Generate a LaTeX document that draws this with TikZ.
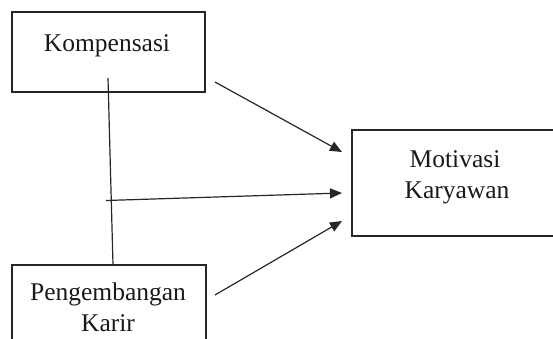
\documentclass[tikz,border=0pt]{standalone}
\usepackage{fontspec}
\setmainfont{Liberation Serif}
\usetikzlibrary{arrows.meta}
\begin{document}
\begin{tikzpicture}[x=1pt,y=-1pt,
  box/.style={draw=black!85,line width=1.3pt,rectangle,inner sep=0pt},
  lbl/.style={inner sep=0pt,anchor=base,font=\fontsize{25.5}{31}\selectfont,text=black!90},
  conn/.style={draw=black!85,line width=1.2pt},
  arr/.style={conn,-{Triangle[length=12pt,width=10pt]}}]
\useasboundingbox (0,0) rectangle (553,339);
\clip (0,0) rectangle (553,339);
% boxes
\node[box,minimum width=193pt,minimum height=80pt] (komp) at (108.5,52) {};
\node[box,minimum width=194pt,minimum height=110pt] (peng) at (109,320) {};
\node[box,minimum width=230pt,minimum height=106pt] (moti) at (467,183) {};
% texts
\node[lbl] (t1) at (107,52) {Kompensasi};
\node[lbl] (t2) at (108,300) {Pengembangan};
\node[lbl] (t3) at (108,331) {Karir};
\node[lbl] (t4) at (455,167) {Motivasi};
\node[lbl] (t5) at (457,198) {Karyawan};
% connector points
\coordinate (v1) at (108,78);
\coordinate (v2) at (113,265);
\coordinate (h1) at (106,200.5);
\coordinate (h2) at (342,193);
\coordinate (a1) at (215,82);
\coordinate (a2) at (342,152);
\coordinate (b1) at (215,295);
\coordinate (b2) at (342,221);
\draw[conn] (v1) -- (v2);
\draw[arr] (h1) -- (h2);
\draw[arr] (a1) -- (a2);
\draw[arr] (b1) -- (b2);
\end{tikzpicture}
\end{document}
